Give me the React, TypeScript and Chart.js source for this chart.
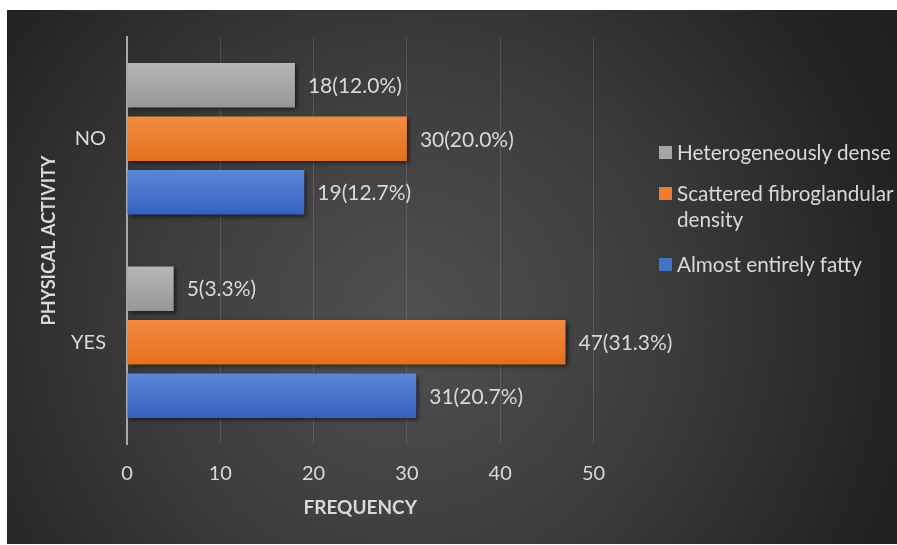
import React, { useEffect, useRef } from "react";
import { Chart, registerables } from "chart.js";

Chart.register(...registerables);

const categories = ["NO", "YES"];
const seriesNames = ["Heterogeneously dense", "Scattered fibroglandular density", "Almost entirely fatty"];
const heterogeneouslyDense = [18, 5];
const scatteredFibroglandular = [30, 47];
const almostEntirelyFatty = [19, 31];
const heterogeneouslyDensePct = [12.0, 3.3];
const scatteredFibroglandularPct = [20.0, 31.3];
const almostEntirelyFattyPct = [12.7, 20.7];
const xMin = 0;
const xMax = 50;
const xStep = 10;

const FONT = "Lato, 'Open Sans', sans-serif";
const TEXT = "#d9d9d9";
const CAT_PCT = 0.79;
const BAR_PCT = 0.83;

const solid = ["#a5a5a5", "#ed7d31", "#4472c4"];
const grads: [string, string][] = [
  ["#b6b6b6", "#979797"],
  ["#f38b41", "#e46f1d"],
  ["#5b87d8", "#3562c0"],
];

function barFill(ds: number) {
  return (c: any) => {
    const chart = c.chart;
    const ys = chart.scales && chart.scales.y;
    if (!ys || c.type !== "data" || !isFinite(ys.top)) return solid[ds];
    const center = ys.getPixelForValue(c.dataIndex);
    const catH = (ys.bottom - ys.top) / categories.length;
    const groupH = catH * CAT_PCT;
    const slot = groupH / 3;
    const top = center - groupH / 2 + ds * slot + (slot * (1 - BAR_PCT)) / 2;
    const bottom = top + slot * BAR_PCT;
    const g = chart.ctx.createLinearGradient(0, top, 0, bottom);
    g.addColorStop(0, grads[ds][0]);
    g.addColorStop(1, grads[ds][1]);
    return g;
  };
}

const pctArrays = [heterogeneouslyDensePct, scatteredFibroglandularPct, almostEntirelyFattyPct];

const labelPlugin = {
  id: "barLabels",
  beforeDatasetsDraw(chart: any) {
    const ctx = chart.ctx;
    ctx.save();
    ctx.shadowColor = "rgba(0,0,0,0.55)";
    ctx.shadowBlur = 4;
    ctx.shadowOffsetX = 2;
    ctx.shadowOffsetY = 2;
  },
  afterDatasetsDraw(chart: any) {
    const ctx = chart.ctx;
    ctx.restore();
    ctx.save();
    ctx.font = `21px ${FONT}`;
    ctx.fillStyle = TEXT;
    ctx.textAlign = "left";
    ctx.textBaseline = "middle";
    chart.data.datasets.forEach((ds: any, di: number) => {
      const meta = chart.getDatasetMeta(di);
      meta.data.forEach((el: any, i: number) => {
        const v = ds.data[i];
        const p = pctArrays[di][i];
        ctx.fillText(`${v}(${p.toFixed(1)}%)`, el.x + 13, el.y + 1);
      });
    });
    ctx.restore();
  },
};

export default function App() {
  const ref = useRef<HTMLCanvasElement>(null);

  useEffect(() => {
    if (!ref.current) return;
    const chart = new Chart(ref.current, {
      type: "bar",
      data: {
        labels: categories,
        datasets: [
          { label: seriesNames[0], data: heterogeneouslyDense, backgroundColor: barFill(0) as any },
          { label: seriesNames[1], data: scatteredFibroglandular, backgroundColor: barFill(1) as any },
          { label: seriesNames[2], data: almostEntirelyFatty, backgroundColor: barFill(2) as any },
        ],
      },
      options: {
        indexAxis: "y",
        responsive: false,
        animation: false,
        devicePixelRatio: 1,
        categoryPercentage: CAT_PCT,
        barPercentage: BAR_PCT,
        layout: { padding: { left: 0, top: 37, right: 303.5, bottom: 0 } },
        plugins: { legend: { display: false }, tooltip: { enabled: false } },
        scales: {
          x: {
            min: xMin,
            max: xMax,
            afterFit: (s: any) => {
              s.height = 101;
            },
            ticks: { stepSize: xStep, color: TEXT, font: { family: FONT, size: 20 }, padding: 18 },
            grid: { color: "rgba(255,255,255,0.13)", drawTicks: false, lineWidth: 1 },
            border: { display: false },
            title: {
              display: true,
              text: "FREQUENCY",
              color: TEXT,
              font: { family: FONT, size: 19, weight: "bold" },
              padding: { top: 0, bottom: 26 },
            },
          },
          y: {
            afterFit: (s: any) => {
              s.width = 127;
            },
            ticks: { color: TEXT, font: { family: FONT, size: 20 }, padding: 21 },
            grid: { display: false, drawTicks: false },
            border: { display: true, color: "#a9a9a9", width: 2 },
            title: {
              display: true,
              text: "PHYSICAL ACTIVITY",
              color: TEXT,
              font: { family: FONT, size: 18, weight: "bold" },
              padding: { top: 38, bottom: 0 },
            },
          },
        },
      },
      plugins: [labelPlugin],
    });
    return () => chart.destroy();
  }, []);

  const legendItem = (i: number, top: number, lines: string[]) => (
    <div
      key={i}
      style={{
        position: "absolute",
        left: 659,
        top,
        display: "flex",
        alignItems: "flex-start",
        whiteSpace: "nowrap",
      }}
    >
      <div style={{ width: 13, height: 13, marginTop: 7, background: solid[i], marginRight: 5 }} />
      <div style={{ font: `20.7px ${FONT}`, color: TEXT, lineHeight: "26px" }}>
        {lines.map((l, k) => (
          <div key={k}>{l}</div>
        ))}
      </div>
    </div>
  );

  return (
    <div
      style={{
        position: "fixed",
        left: 0,
        top: 0,
        width: 897,
        height: 545,
        background: "#ffffff",
        overflow: "hidden",
      }}
    >
      <div
        style={{
          position: "absolute",
          left: 7,
          top: 10,
          width: 890,
          height: 534,
          background:
            "radial-gradient(circle farthest-corner at 45% 58%, #505050 0%, #3c3c3c 45%, #232323 85%, #1f1f1f 100%)",
        }}
      />
      <canvas ref={ref} width={897} height={545} style={{ position: "absolute", left: 0, top: 0 }} />
      {legendItem(0, 139, ["Heterogeneously dense"])}
      {legendItem(1, 180, ["Scattered fibroglandular", "density"])}
      {legendItem(2, 251, ["Almost entirely fatty"])}
    </div>
  );
}
